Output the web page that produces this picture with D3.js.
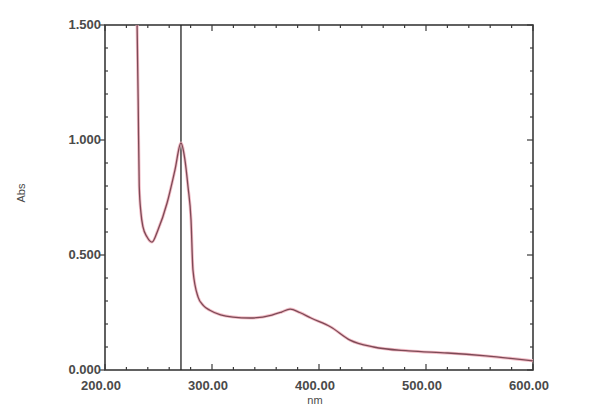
<!DOCTYPE html>
<html>
<head>
<meta charset="utf-8">
<script src="https://cdn.jsdelivr.net/npm/d3@7"></script>
<style>
  body { margin: 0; background: #fff; }
  svg { display: block; }
  .tick-label { font-family: "Liberation Sans", Arial, sans-serif; font-size: 13px; font-weight: bold; fill: #4a4a4a; }
</style>
</head>
<body>
<div id="chart"></div>
<script>
// spectrum (wavelength in nm, absorbance)
const wavelength = [229, 230, 231, 232, 233.6, 235.5, 239.3, 243.9, 249.5, 258, 265.4, 271, 274.5, 277.6, 280.4, 282.2, 287, 292, 298, 308, 319.6, 335.5, 356, 365, 373, 382, 392.5, 411, 429, 451, 484, 520, 556, 600];
const absorbance = [1.75, 1.5, 1.17, 0.8, 0.683, 0.622, 0.578, 0.556, 0.609, 0.726, 0.87, 0.987, 0.92, 0.796, 0.652, 0.435, 0.317, 0.28, 0.26, 0.24, 0.23, 0.226, 0.239, 0.252, 0.265, 0.25, 0.226, 0.187, 0.13, 0.1, 0.083, 0.074, 0.061, 0.04];
const cursorNm = 271;

const xTicks = [200, 300, 400, 500, 600];
const yTicks = [0, 0.5, 1.0, 1.5];

const width = 610;
const height = 405;
const margin = { top: 25, right: 77, bottom: 35, left: 105 };

const points = wavelength.map((w, i) => ({ w, a: absorbance[i] }));

const svg = d3.select("#chart").append("svg")
  .attr("width", width)
  .attr("height", height);

const x = d3.scaleLinear().domain([200, 600]).range([margin.left, width - margin.right]);
const y = d3.scaleLinear().domain([0, 1.5]).range([height - margin.bottom, margin.top]);

const x0 = x(200), x1 = x(600), y0 = y(0), y1 = y(1.5);

svg.append("clipPath").attr("id", "plot")
  .append("rect")
  .attr("x", x0).attr("y", y1)
  .attr("width", x1 - x0).attr("height", y0 - y1);

// minor ticks every 20 nm and 0.1 Abs, longer at the labelled values
const axisColor = "#3a3a3a";
const minorX = d3.range(200, 601, 20);
const minorY = d3.range(0, 16).map((i) => i / 10);

const ticks = svg.append("g").attr("stroke", axisColor).attr("stroke-width", 1.2);
minorX.forEach((v) => {
  const len = v % 100 === 0 ? 6 : 3;
  ticks.append("line").attr("x1", x(v)).attr("x2", x(v)).attr("y1", y0).attr("y2", y0 - len);
  ticks.append("line").attr("x1", x(v)).attr("x2", x(v)).attr("y1", y1).attr("y2", y1 + len);
});
minorY.forEach((v, i) => {
  const major = i % 5 === 0;
  if (major) {
    ticks.append("line").attr("x1", x0 - 5).attr("x2", x0).attr("y1", y(v)).attr("y2", y(v));
  } else {
    ticks.append("line").attr("x1", x0).attr("x2", x0 + 3).attr("y1", y(v)).attr("y2", y(v));
  }
  ticks.append("line").attr("x1", x1).attr("x2", x1 - (major ? 6 : 3)).attr("y1", y(v)).attr("y2", y(v));
});

// frame
svg.append("rect")
  .attr("x", x0).attr("y", y1)
  .attr("width", x1 - x0).attr("height", y0 - y1)
  .attr("fill", "none")
  .attr("stroke", axisColor)
  .attr("stroke-width", 1.6);

// tick labels
svg.append("g").selectAll("text")
  .data(xTicks)
  .join("text")
  .attr("class", "tick-label")
  .attr("x", (d) => x(d) - 4)
  .attr("y", y0 + 20)
  .attr("text-anchor", "middle")
  .text((d) => d3.format(".2f")(d));

svg.append("g").selectAll("text")
  .data(yTicks)
  .join("text")
  .attr("class", "tick-label")
  .attr("x", x0 - 4)
  .attr("y", (d) => y(d) + 4)
  .attr("text-anchor", "end")
  .text((d) => d3.format(".3f")(d));

// axis titles
svg.append("text")
  .attr("class", "tick-label")
  .style("font-size", "11px")
  .style("font-weight", "normal")
  .attr("transform", `translate(25, 193) rotate(-90)`)
  .attr("text-anchor", "middle")
  .text("Abs");

svg.append("text")
  .attr("class", "tick-label")
  .style("font-size", "11px")
  .style("font-weight", "normal")
  .attr("x", x(400) - 4)
  .attr("y", height - 1)
  .attr("text-anchor", "middle")
  .text("nm");

// cursor line at the peak
svg.append("line")
  .attr("x1", x(cursorNm)).attr("x2", x(cursorNm))
  .attr("y1", y0).attr("y2", y1)
  .attr("stroke", "#222")
  .attr("stroke-width", 1.3);

// spectrum
const line = d3.line()
  .x((d) => x(d.w))
  .y((d) => y(d.a))
  .curve(d3.curveMonotoneX);

svg.append("path")
  .datum(points)
  .attr("clip-path", "url(#plot)")
  .attr("fill", "none")
  .attr("stroke", "#f2bcc6")
  .attr("stroke-width", 3)
  .attr("d", line);

svg.append("path")
  .datum(points)
  .attr("clip-path", "url(#plot)")
  .attr("fill", "none")
  .attr("stroke", "#7d4a56")
  .attr("stroke-width", 1.3)
  .attr("d", line);
</script>
</body>
</html>
